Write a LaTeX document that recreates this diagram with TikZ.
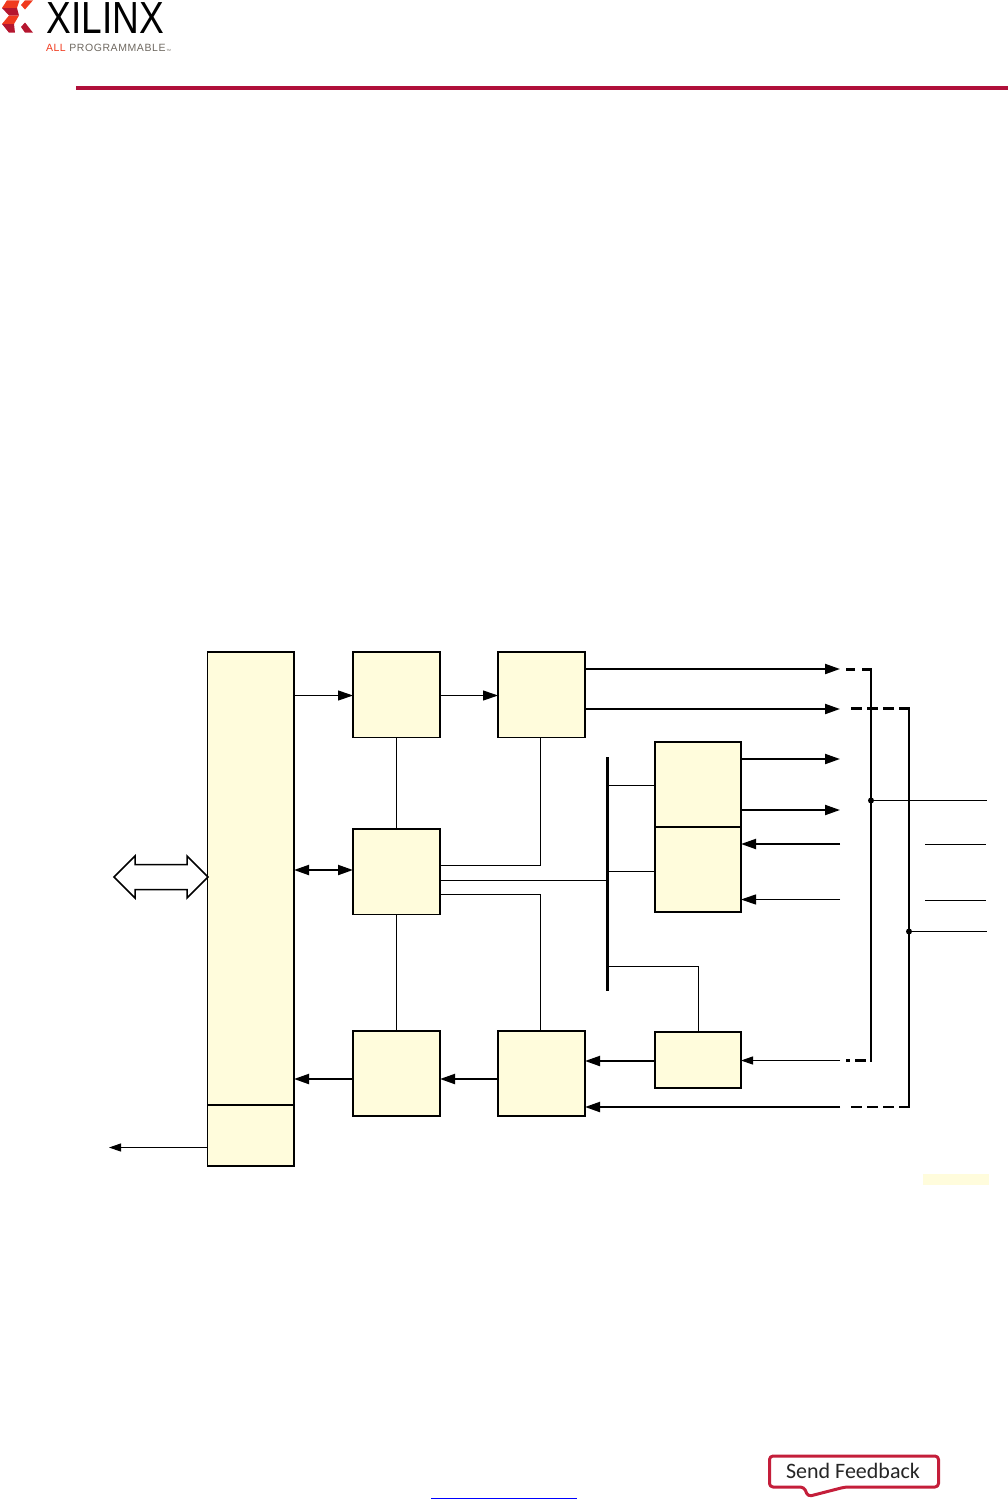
\documentclass[tikz,border=0pt]{standalone}
\usepackage{fontspec}
\setmainfont{Liberation Sans}
\newfontfamily\fbfont{Carlito}
\usetikzlibrary{arrows.meta,calc}
\definecolor{boxfill}{HTML}{FFFCDC}
\definecolor{xred}{HTML}{B0103A}
\definecolor{xorange}{HTML}{F03A1E}
\definecolor{xdark}{HTML}{B5162F}
\definecolor{fbred}{HTML}{C41E3A}
\definecolor{xgray}{HTML}{6E6860}
\tikzset{
  x=1pt,y=-1pt,
  blockbox/.style={draw=black,fill=boxfill,line width=1.5pt,inner sep=0pt,outer sep=0pt,anchor=north west},
  thinwire/.style={line width=1.1pt},
  bigtip/.style={-{Triangle[length=15pt,width=10pt]}},
  thintip/.style={thinwire,bigtip},
  smalltip/.style={thinwire,-{Triangle[length=12pt,width=8pt]}},
  thicktip/.style={line width=2pt,bigtip},
  railwire/.style={line width=2.2pt},
  dashwire/.style={line width=2.8pt},
  dashone/.style={dashwire,dash pattern=on 11pt off 5pt},
  dot/.style={circle,fill=black,inner sep=0pt,minimum size=6pt},
}
\begin{document}
\begin{tikzpicture}
\useasboundingbox (0,0) rectangle (1008,1510);
% logo
\fill[xorange] (7,0.3)--(19.5,0.3)--(17,8)--(2,8)--cycle;
\fill[xorange] (25,0.3)--(33,0.3)--(25,9.5)--(21,5)--cycle;
\fill[xdark] (2,8)--(17,8)--(19,15.5)--(9,15.5)--cycle;
\fill[xorange] (9,15.5)--(19,15.5)--(14,24)--(2,24)--cycle;
\fill[xdark] (2,24)--(14,24)--(15,32.7)--(9,32.7)--cycle;
\fill[xdark] (21,27)--(25,22.5)--(33,32.7)--(25,32.7)--cycle;
\node[font=\fontsize{45}{45}\selectfont,xscale=.825,anchor=base west,inner sep=0pt,outer sep=0pt] (xilinx) at (46.5,33) {XILINX};
\node[font=\fontsize{10.5}{10.5}\selectfont,anchor=base west,inner sep=0pt,outer sep=0pt] (allprog) at (46,51)
  {\addfontfeature{LetterSpace=5.5}\textcolor{xorange}{ALL}\ \textcolor{xgray}{PROGRAMMABLE}};
\node[font=\fontsize{3}{3}\selectfont,text=xgray,anchor=base west,inner sep=0pt,outer sep=0pt] (tm) at (166.5,51) {TM};
\fill[xred] (76,86) rectangle (1008,90);
% blocks
\node[blockbox,minimum width=86.5pt,minimum height=453pt] (main) at (207.5,652) {};
\node[blockbox,minimum width=86.5pt,minimum height=61pt] (sub) at (207.5,1105) {};
\node[blockbox,minimum width=87pt,minimum height=85.5pt] (A) at (353,652) {};
\node[blockbox,minimum width=87pt,minimum height=85.5pt] (B) at (498,652) {};
\node[blockbox,minimum width=87pt,minimum height=85.5pt] (C) at (353,829) {};
\node[blockbox,minimum width=87pt,minimum height=85pt] (D) at (353,1031) {};
\node[blockbox,minimum width=87pt,minimum height=85pt] (E) at (498,1031) {};
\node[blockbox,minimum width=86pt,minimum height=85pt] (F) at (655,742) {};
\node[blockbox,minimum width=86pt,minimum height=85pt] (G) at (655,827) {};
\node[blockbox,minimum width=86pt,minimum height=56pt] (H) at (655,1032) {};
\node[fill=black,inner sep=0pt,outer sep=0pt,minimum width=3pt,minimum height=234pt,anchor=north] (bus) at (607.5,757) {};
% y levels and free ends
\coordinate (o1) at (840,669);
\coordinate (o2) at (840,709);
\coordinate (o3) at (840,759);
\coordinate (o4) at (840,810);
\coordinate (i1) at (840,844);
\coordinate (i2) at (840,899.5);
\coordinate (i3) at (840,1060.5);
\coordinate (i4) at (840,1107);
\coordinate (lout) at (109,1147.5);
\coordinate (v1t) at (871,669.3);
\coordinate (v1b) at (871,1062);
\coordinate (v2t) at (909,708.3);
\coordinate (v2b) at (909,1107);
\node[dot] (j1) at (871,800.5) {};
\node[dot] (j2) at (909,931.5) {};
\coordinate (r1) at (987,800.5);
\coordinate (r2) at (987,931.5);
\coordinate (s1a) at (925,844.5);
\coordinate (s1b) at (986,844.5);
\coordinate (s2a) at (925,900.5);
\coordinate (s2b) at (986,900.5);
% top row
\draw[thintip] (main.east |- 0,695.5) -- (A.west |- 0,695.5);
\draw[thintip] (A.east |- 0,695.5) -- (B.west |- 0,695.5);
\draw[thicktip] (B.east |- o1) -- (o1);
\draw[thicktip] (B.east |- o2) -- (o2);
% F, G
\draw[thicktip] (F.east |- o3) -- (o3);
\draw[thicktip] (F.east |- o4) -- (o4);
\draw[thicktip] (i1) -- (G.east |- i1);
\draw[thintip] (i2) -- (G.east |- i2);
% bottom row
\draw[smalltip] (i3) -- (H.east |- i3);
\draw[thicktip] (H.west |- 0,1061) -- (E.east |- 0,1061);
\draw[thicktip] (i4) -- (E.east |- i4);
\draw[thicktip] (E.west |- 0,1079) -- (D.east |- 0,1079);
\draw[thicktip] (D.west |- 0,1079) -- (main.east |- 0,1079);
\draw[smalltip] (sub.west |- lout) -- (lout);
% C links
\draw[line width=2pt,{Triangle[length=15pt,width=10pt]}-{Triangle[length=15pt,width=10pt]}] (main.east |- 0,870) -- (C.west |- 0,870);
\draw[thinwire] (A.south) -- (C.north);
\draw[thinwire] (C.south) -- (D.north);
\draw[thinwire] (C.east |- 0,865.5) -| ($(B.south)+(-1,0)$);
\draw[thinwire] (C.east |- 0,880.5) -- (bus.west |- 0,880.5);
\draw[thinwire] (C.east |- 0,894.5) -| ($(E.north)+(-1,-1.5)$);
% bus links
\draw[thinwire] (bus.east |- 0,785.5) -- (F.west |- 0,785.5);
\draw[thinwire] (bus.east |- 0,871.5) -- (G.west |- 0,871.5);
\draw[thinwire] (bus.east |- 0,966.5) -| ($(H.north)+(.5,0)$);
% right side
\coordinate (d1a) at (846,669.3);
\coordinate (d2a) at (851,708.3);
\coordinate (d3a) at (846,1060.8);
\coordinate (d3m) at (850,1060.8);
\coordinate (d3b) at (855,1060.8);
\coordinate (d3c) at (866,1060.8);
\coordinate (d4a) at (851,1107);
\draw[dashwire,dash pattern=on 9pt off 7pt] (d1a) -- (v1t);
\draw[dashone] (d2a) -- (v2t);
\draw[dashone] (d4a) -- (v2b);
\draw[dashwire] (d3a) -- (d3m);
\draw[dashwire] (d3b) -- (d3c);
\draw[railwire] ($(v1t)+(0,-1.2)$) -- (v1b);
\draw[railwire] ($(v2t)+(0,-1.2)$) -- ($(v2b)+(0,1.2)$);
\draw[thinwire] (j1.center) -- (r1);
\draw[thinwire] (j2.center) -- (r2);
\draw[thinwire] (s1a) -- (s1b);
\draw[thinwire] (s2a) -- (s2b);
% big double arrow
\draw[fill=white,line width=1.5pt,line join=miter] (114,877)--(135,856)--(135,864.5)--(187,864.5)--(187,856)--(208,877)--(187,898)--(187,889.5)--(135,889.5)--(135,898)--cycle;
% pale bar, link rule
\fill[boxfill] (923,1174) rectangle (989,1185);
\draw[blue,line width=1.3pt] (431,1498.5) -- (577,1498.5);
% feedback
\draw[fbred,line width=3pt,fill=white,line join=round,rounded corners=3.5pt] (769.5,1456)--(938.5,1456)--(938.5,1487)--(845,1487)--(808,1496.5)--(804,1487)--(769.5,1487)--cycle;
\node[font=\fbfont\fontsize{22}{22}\selectfont,text=black!85,inner sep=0pt] (fb) at (853,1471) {Send Feedback};
\end{tikzpicture}
\end{document}
